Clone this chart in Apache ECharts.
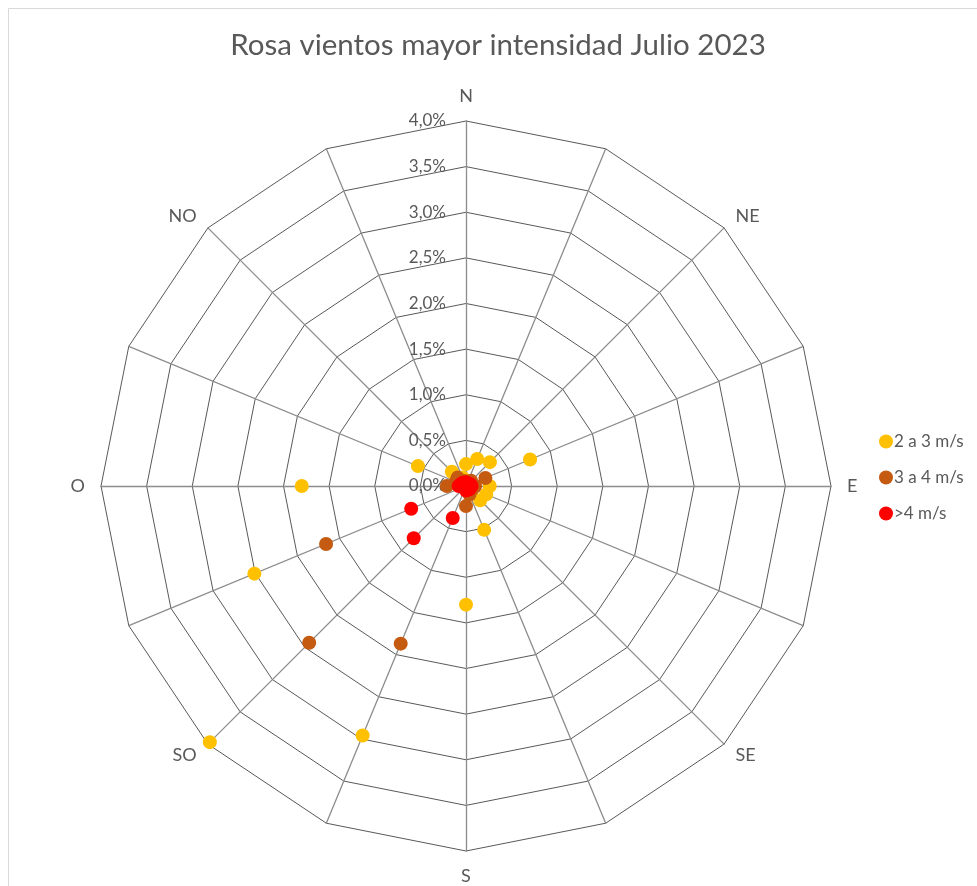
<!DOCTYPE html>
<html><head><meta charset="utf-8">
<script src="https://cdn.jsdelivr.net/npm/echarts@6/dist/echarts.min.js"></script>
<style>html,body{margin:0;padding:0;background:#fff}#c{width:977px;height:886px}</style>
</head><body><div id="c"></div>
<script>
// Compass directions, clockwise from North
const directions = ['N','NNE','NE','ENE','E','ESE','SE','SSE','S','SSO','SO','OSO','O','ONO','NO','NNO'];
const directionLabels = ['N','','NE','','E','','SE','','S','','SO','','O','','NO',''];
const seriesNames = ['2 a 3 m/s','3 a 4 m/s','>4 m/s'];
// Frequencies (%) per direction
const v2a3 = [0.24,0.32,0.37,0.76,0.26,0.24,0.22,0.52,1.30,2.96,3.97,2.51,1.80,0.57,0.22,0.10];
const v3a4 = [0.05,0.05,0.08,0.23,0.10,0.08,0.06,0.10,0.22,1.87,2.43,1.66,0.21,0.12,0.13,0.06];
const vMas4 = [0.04,0.03,0.04,0.05,0.06,0.05,0.05,0.04,0.05,0.38,0.81,0.65,0.08,0.06,0.05,0.04];
const radialMax = 4.0;
const radialStep = 0.5;

// Radar places indicators counter-clockwise; reorder to get clockwise compass
const order = [0];
for (let i = directions.length - 1; i >= 1; i--) order.push(i);
const pick = arr => order.map(i => arr[i]);

const indicator = order.map((i, k) => {
  const o = { name: directionLabels[i], max: radialMax, min: 0 };
  if (k === 0) {
    o.axisLabel = { show: true };
  }
  return o;
});

const colors = ['#FFC000', '#C55A11', '#FF0000'];
const values = [v2a3, v3a4, vMas4];

const chart = echarts.init(document.getElementById('c'), null, { renderer: 'canvas' });
chart.setOption({
  animation: false,
  backgroundColor: '#fff',
  title: {
    text: 'Rosa vientos mayor intensidad Julio 2023',
    left: 493, top: 25, textAlign: 'center',
    textStyle: { fontFamily: 'Lato', fontSize: 29.5, fontWeight: 'normal', color: '#595959' }
  },
  legend: {
    orient: 'vertical', left: 874, top: 428, itemGap: 19,
    icon: 'circle', itemWidth: 14, itemHeight: 14,
    textStyle: { fontFamily: 'Lato', fontSize: 17, color: '#595959', padding: [0,0,0,-4] },
    data: seriesNames
  },
  graphic: [
    { type: 'line', shape: { x1: 8.5, y1: 8.5, x2: 8.5, y2: 886 }, style: { stroke: '#d9d9d9', lineWidth: 1 } },
    { type: 'line', shape: { x1: 8.5, y1: 8.5, x2: 977, y2: 8.5 }, style: { stroke: '#d9d9d9', lineWidth: 1 } }
  ],
  radar: {
    center: [466, 486],
    radius: 365,
    startAngle: 90,
    shape: 'polygon',
    splitNumber: radialMax / radialStep,
    indicator: indicator,
    axisName: { color: '#595959', fontFamily: 'Lato', fontSize: 18 },
    nameGap: 16,
    splitArea: { show: false },
    splitLine: { lineStyle: { color: '#595959', width: 1 } },
    axisLine: { lineStyle: { color: '#8c8c8c', width: 1.3 } },
    axisTick: { show: false },
    axisLabel: {
      show: false,
      color: '#595959', fontFamily: 'Lato', fontSize: 17,
      margin: 20,
      formatter: v => v.toFixed(1).replace('.', ',') + '%'
    }
  },
  series: seriesNames.map((name, s) => ({
    type: 'radar',
    name: name,
    symbol: 'circle',
    symbolSize: 14,
    z: 2 + s,
    itemStyle: { color: colors[s] },
    lineStyle: { opacity: 0, width: 0 },
    areaStyle: { opacity: 0 },
    data: [{ name: name, value: pick(values[s]) }]
  }))
});
</script>
</body></html>
